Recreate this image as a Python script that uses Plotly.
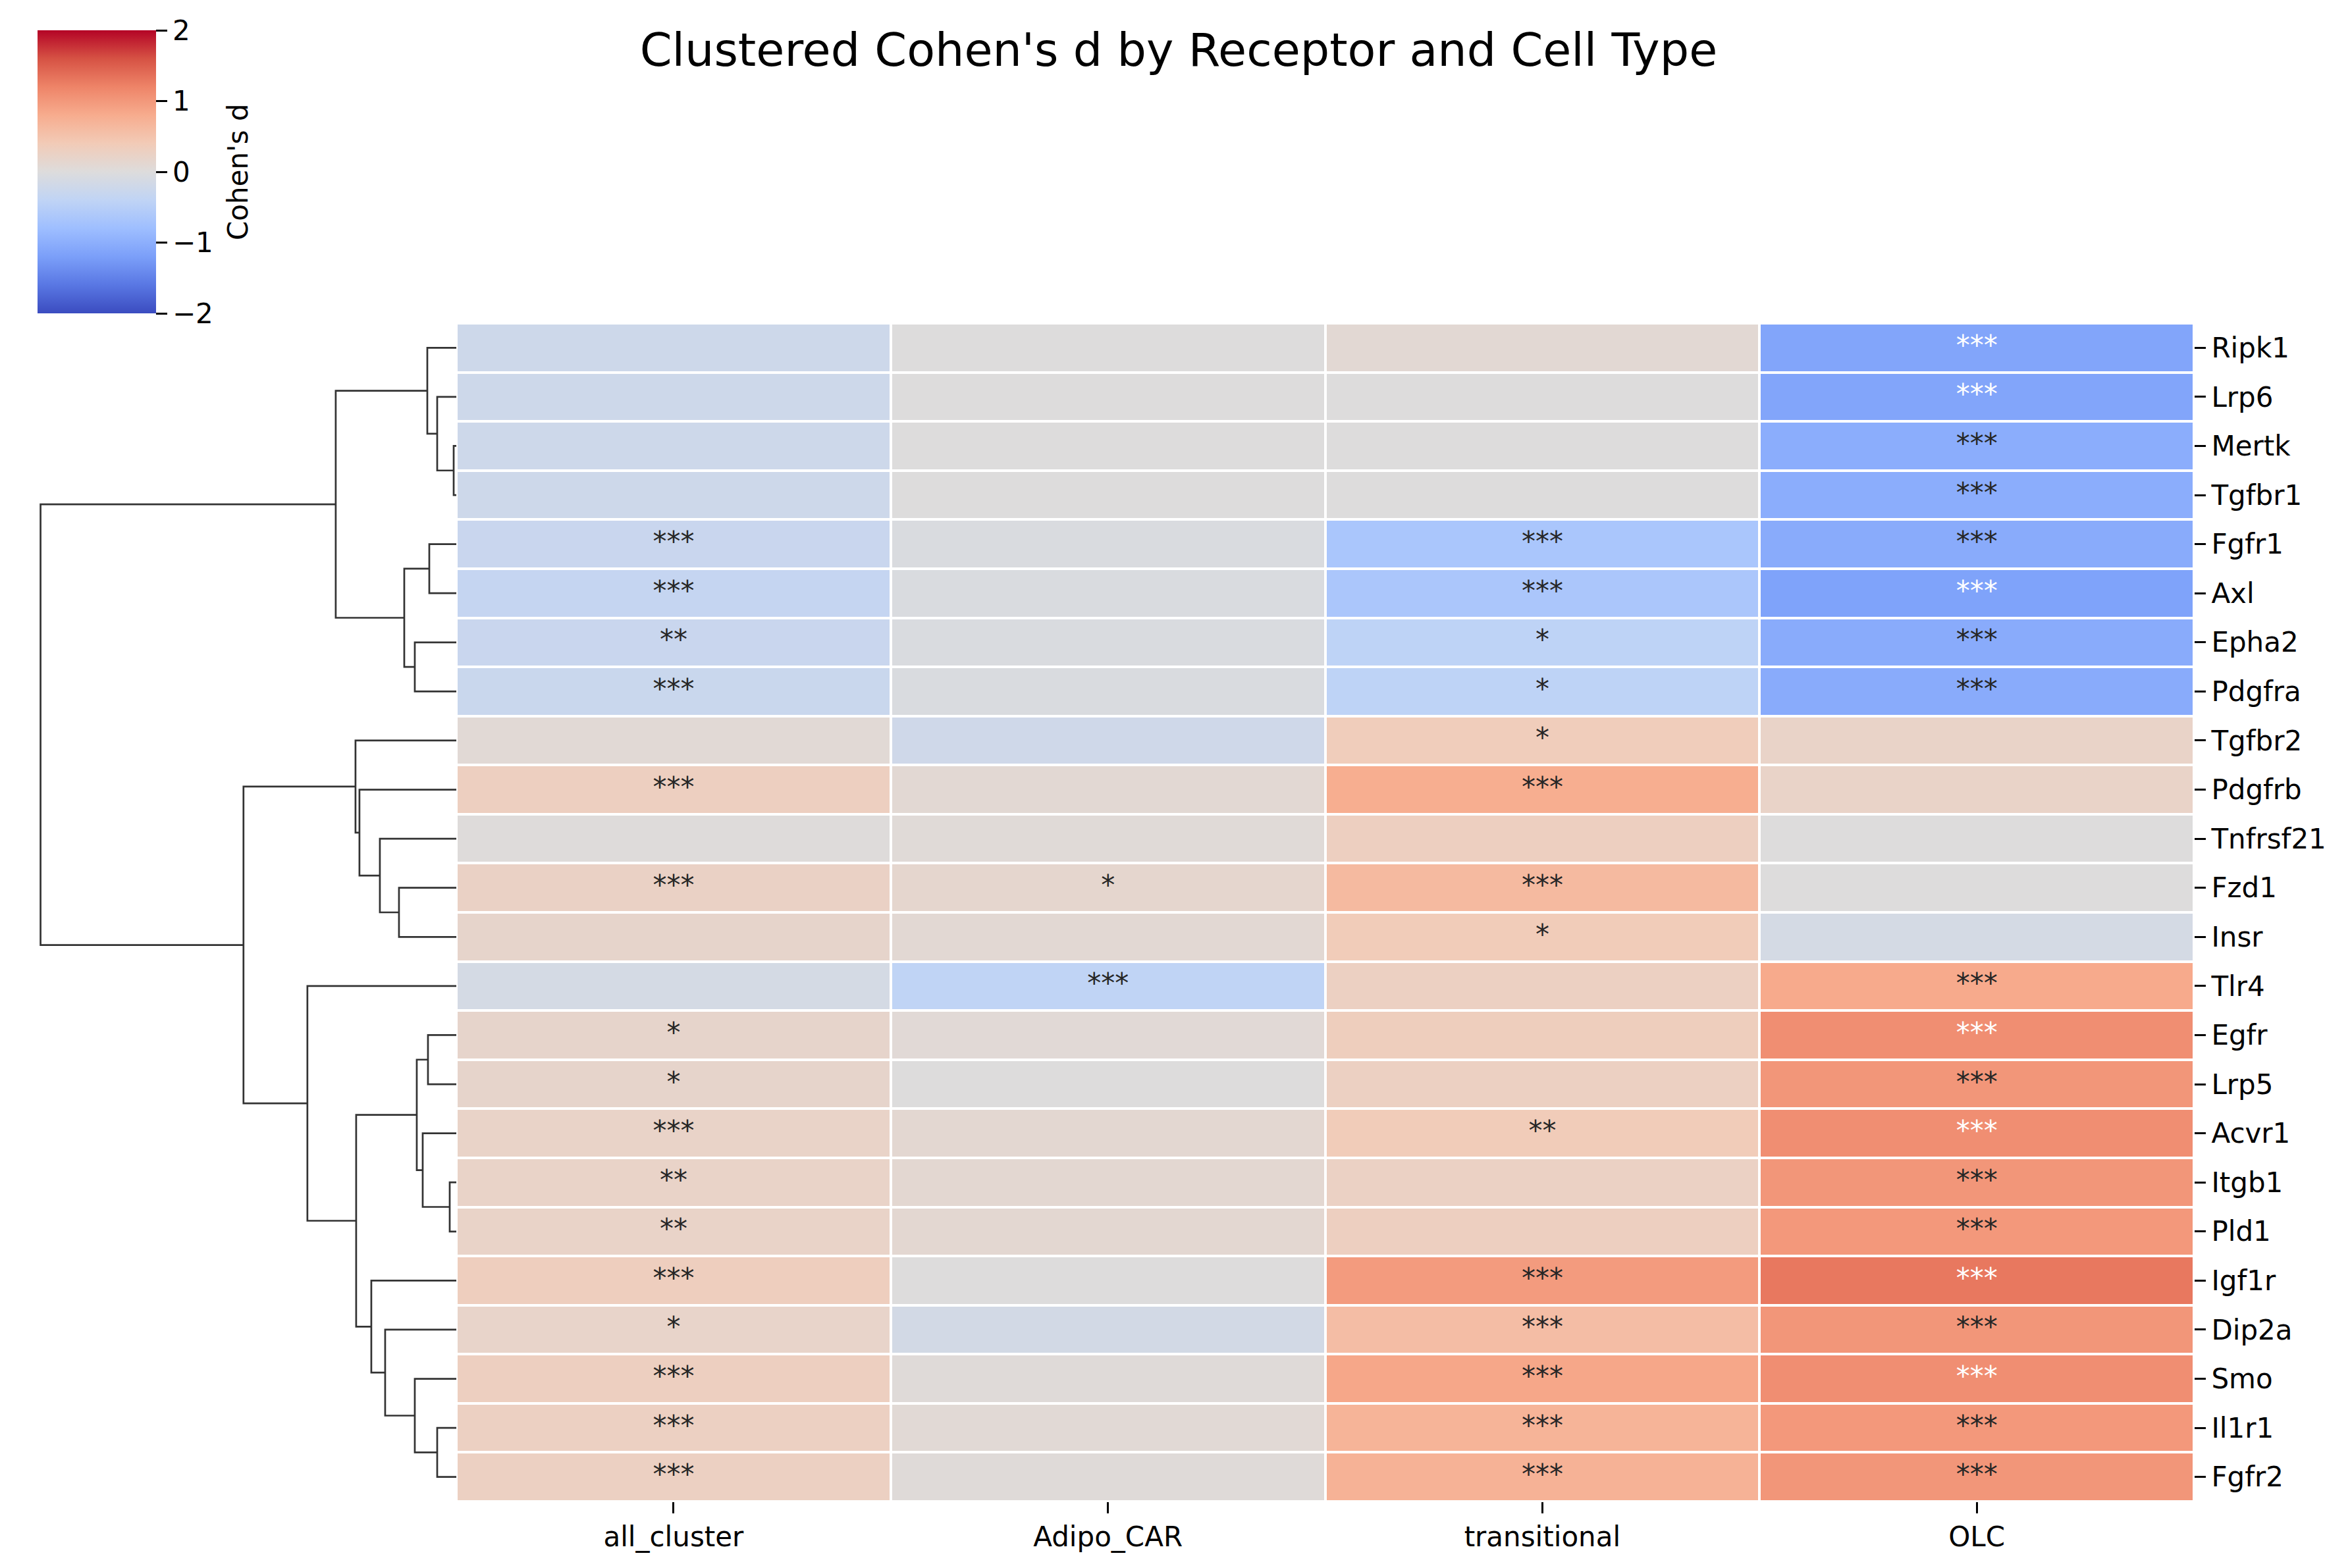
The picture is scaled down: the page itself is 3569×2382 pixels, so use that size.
import plotly.graph_objects as go

W, H = 3569, 2382

rows = ["Ripk1", "Lrp6", "Mertk", "Tgfbr1", "Fgfr1", "Axl", "Epha2", "Pdgfra",
        "Tgfbr2", "Pdgfrb", "Tnfrsf21", "Fzd1", "Insr", "Tlr4", "Egfr", "Lrp5",
        "Acvr1", "Itgb1", "Pld1", "Igf1r", "Dip2a", "Smo", "Il1r1", "Fgfr2"]
cols = ["all_cluster", "Adipo_CAR", "transitional", "OLC"]

d_all_cluster = [-0.22, -0.22, -0.22, -0.22, -0.28, -0.33, -0.28, -0.27,
                 0.08, 0.30, 0.02, 0.25, 0.18, -0.12, 0.18, 0.18,
                 0.22, 0.22, 0.22, 0.32, 0.20, 0.30, 0.28, 0.28]
d_adipo_car = [0.0, 0.0, 0.0, 0.0, -0.05, -0.05, -0.05, -0.05,
               -0.20, 0.10, 0.05, 0.15, 0.10, -0.40, 0.07, 0.0,
               0.12, 0.12, 0.12, 0.0, -0.15, 0.04, 0.08, 0.04]
d_transitional = [0.10, 0.0, 0.0, 0.0, -0.66, -0.65, -0.42, -0.42,
                  0.36, 0.78, 0.30, 0.62, 0.38, 0.28, 0.33, 0.28,
                  0.38, 0.26, 0.30, 0.97, 0.58, 0.85, 0.70, 0.72]
d_olc = [-1.12, -1.12, -1.02, -1.02, -1.04, -1.15, -1.04, -1.04,
         0.22, 0.22, 0.0, 0.0, -0.12, 0.82, 1.10, 1.02,
         1.10, 1.02, 1.00, 1.30, 1.02, 1.10, 1.00, 1.02]

s_all_cluster = ["", "", "", "", "***", "***", "**", "***",
                 "", "***", "", "***", "", "", "*", "*",
                 "***", "**", "**", "***", "*", "***", "***", "***"]
s_adipo_car = ["", "", "", "", "", "", "", "",
               "", "", "", "*", "", "***", "", "",
               "", "", "", "", "", "", "", ""]
s_transitional = ["", "", "", "", "***", "***", "*", "*",
                  "*", "***", "", "***", "*", "", "", "",
                  "**", "", "", "***", "***", "***", "***", "***"]
s_olc = ["***"] * 8 + [""] * 5 + ["***"] * 11

# row dendrogram linkage (scipy style: leaves 0..23 in display order, new ids from 24)
link_left = [2, 1, 0, 4, 6, 27, 26, 11, 10, 9, 8, 14, 17, 16, 35, 22, 21, 20, 19, 38, 13, 34, 30]
link_right = [3, 24, 25, 5, 7, 28, 29, 12, 31, 32, 33, 15, 18, 36, 37, 23, 39, 40, 41, 42, 43, 44, 45]
link_height = [0.04, 0.29, 0.44, 0.41, 0.63, 0.79, 1.83, 0.87, 1.16, 1.47, 1.53, 0.43,
               0.10, 0.51, 0.60, 0.29, 0.63, 1.08, 1.29, 1.52, 2.26, 3.23, 6.31]

cbar_ticks = [-2, -1, 0, 1, 2]
cbar_title = "Cohen's d"

coolwarm = ["#3b4cc0", "#5977e3", "#7b9ff9", "#9ebeff", "#c0d4f5", "#dddcdc",
            "#f2cbb7", "#f7ac8e", "#ee8468", "#d65244", "#b40426"]
colorscale = [[i / 10, c] for i, c in enumerate(coolwarm)]
zmin, zmax = -2, 2


def hex2rgb(h):
    h = h.lstrip("#")
    return [int(h[i:i + 2], 16) / 255 for i in (0, 2, 4)]


def color_at(v):
    t = (min(max(v, zmin), zmax) - zmin) / (zmax - zmin)
    pos = t * 10
    i = min(int(pos), 9)
    f = pos - i
    a, b = hex2rgb(coolwarm[i]), hex2rgb(coolwarm[i + 1])
    return [a[k] + (b[k] - a[k]) * f for k in range(3)]


def luminance(rgb):
    lin = [c / 12.92 if c <= 0.03928 else ((c + 0.055) / 1.055) ** 2.4 for c in rgb]
    return 0.2126 * lin[0] + 0.7152 * lin[1] + 0.0722 * lin[2]


data_cols = [d_all_cluster, d_adipo_car, d_transitional, d_olc]
star_cols = [s_all_cluster, s_adipo_car, s_transitional, s_olc]
n = len(rows)
yidx = list(range(n))
z = [[data_cols[j][i] for j in range(len(cols))] for i in range(n)]

CB_TOP, CB_BOT = 46, 476

fig = go.Figure()
fig.add_trace(go.Heatmap(
    z=z, x=cols, y=yidx, colorscale=colorscale, zmin=zmin, zmax=zmax,
    xgap=4, ygap=4, hoverinfo="skip",
    colorbar=dict(
        x=57 / W, xanchor="left", y=1 - CB_BOT / H, yanchor="bottom", xpad=0, ypad=0,
        len=CB_BOT - CB_TOP, lenmode="pixels", thickness=180, thicknessmode="pixels",
        outlinewidth=0, tickvals=cbar_ticks, ticks="outside", ticklen=17,
        tickwidth=3, tickcolor="black", tickfont=dict(size=42, color="black"),
    ),
))

# star annotations
sx, sy, st, sc = [], [], [], []
for j, c in enumerate(cols):
    for i in range(n):
        if star_cols[j][i]:
            sx.append(c)
            sy.append(i)
            st.append(star_cols[j][i])
            sc.append("#262626" if luminance(color_at(data_cols[j][i])) > 0.408 else "#ffffff")
fig.add_trace(go.Scatter(x=sx, y=sy, text=st, mode="text", textposition="middle center",
                         textfont=dict(size=42, color=sc), hoverinfo="skip", showlegend=False))

# dendrogram
pos = {i: float(i) for i in range(n)}
hgt = {i: 0.0 for i in range(n)}
lx, ly = [], []
for k, (a, b, h) in enumerate(zip(link_left, link_right, link_height)):
    nid = n + k
    lx += [hgt[a], h, h, hgt[b], None]
    ly += [pos[a], pos[a], pos[b], pos[b], None]
    pos[nid] = (pos[a] + pos[b]) / 2
    hgt[nid] = h
fig.add_trace(go.Scatter(x=lx, y=ly, mode="lines", line=dict(color="#333333", width=2.7),
                         xaxis="x2", yaxis="y", hoverinfo="skip", showlegend=False))

fig.add_annotation(text=cbar_title, textangle=-90, xref="paper", yref="paper",
                   x=361 / W, y=1 - (CB_TOP + CB_BOT) / 2 / H, xanchor="center", yanchor="middle",
                   showarrow=False, font=dict(size=42, color="black"))

fig.update_layout(
    width=W, height=H, margin=dict(l=0, r=0, t=0, b=0),
    paper_bgcolor="white", plot_bgcolor="white", showlegend=False,
    font=dict(family="DejaVu Sans", color="black"),
    title=dict(text="Clustered Cohen's d by Receptor and Cell Type", x=1790 / W, xanchor="center",
               y=1 - 75 / H, yanchor="middle", font=dict(size=70, color="black")),
    xaxis=dict(domain=[693 / W, 3332 / W], anchor="y", showgrid=False, zeroline=False,
               ticks="outside", ticklen=17, tickwidth=3, tickcolor="black",
               tickfont=dict(size=42, color="black"), showline=False),
    yaxis=dict(domain=[1 - 2281 / H, 1 - 491 / H], anchor="x", side="right",
               range=[n - 0.5, -0.5], tickvals=yidx, ticktext=rows,
               showgrid=False, zeroline=False, ticks="outside", ticklen=17, tickwidth=3,
               tickcolor="black", tickfont=dict(size=42, color="black"), showline=False),
    xaxis2=dict(domain=[30 / W, 693 / W], anchor="y", range=[max(link_height) * 1.05, 0],
                visible=False, showgrid=False, zeroline=False),
)

fig.write_html("out.html", config={"displayModeBar": False},
               post_script="document.body.style.margin='0px';")
